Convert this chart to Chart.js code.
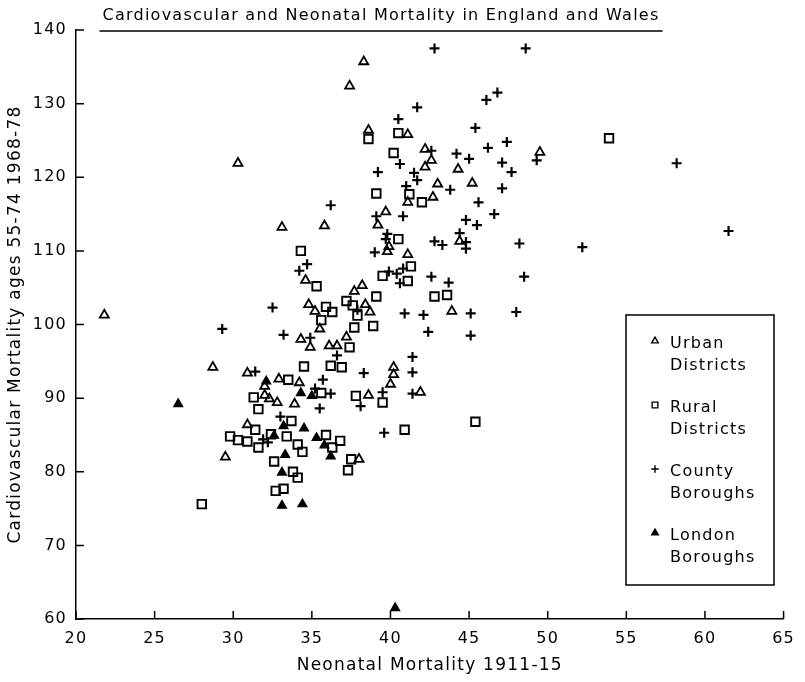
<!DOCTYPE html>
<html>
<head>
<meta charset="utf-8">
<script src="https://cdn.jsdelivr.net/npm/chart.js@4.4.1/dist/chart.umd.min.js"></script>
<style>
  html, body { margin: 0; padding: 0; background: #fff; }
</style>
</head>
<body>
<canvas id="scatter" width="805" height="682"></canvas>
<script>
const chartTitle = 'Cardiovascular and Neonatal Mortality in England and Wales';
const xTitle = 'Neonatal Mortality 1911-15';
const yTitle = 'Cardiovascular Mortality ages 55-74 1968-78';
const seriesNames = ['Urban Districts', 'Rural Districts', 'County Boroughs', 'London Boroughs'];
const xTicks = [20, 25, 30, 35, 40, 45, 50, 55, 60, 65];
const yTicks = [60, 70, 80, 90, 100, 110, 120, 130, 140];

// [neonatal 1911-15, cardiovascular 1968-78]
const urban = [
  [21.8, 101.3], [28.7, 94.2], [29.5, 82.0], [30.3, 121.9], [30.9, 86.4], [30.9, 93.4],
  [32.0, 91.6], [32.0, 90.4], [32.3, 89.9], [32.8, 89.4], [32.9, 92.6], [33.1, 113.2],
  [33.9, 89.2], [34.2, 92.1], [34.3, 98.0], [34.6, 106.0], [34.8, 102.7], [34.9, 96.9],
  [35.2, 101.8], [35.5, 99.4], [35.8, 113.4], [36.1, 97.1], [36.6, 97.1], [37.2, 98.3],
  [37.4, 132.4], [37.7, 104.5], [38.0, 81.7], [38.2, 105.3], [38.3, 135.7], [38.4, 102.7],
  [38.6, 126.4], [38.6, 90.4], [38.7, 101.7], [39.2, 113.5], [39.7, 115.3], [39.8, 109.9],
  [39.9, 110.6], [40.0, 91.9], [40.2, 94.2], [40.2, 93.2], [41.1, 109.5], [41.1, 116.6],
  [41.1, 125.8], [41.9, 90.8], [42.2, 121.4], [42.2, 123.8], [42.6, 122.3], [42.7, 117.3],
  [43.0, 119.1], [43.9, 101.8], [44.3, 121.1], [44.4, 111.3], [45.2, 119.2], [49.5, 123.4]
];
const rural = [
  [28.0, 75.6], [29.8, 84.8], [30.3, 84.3], [30.9, 84.1], [31.3, 90.1], [31.4, 85.7],
  [31.6, 88.5], [31.6, 83.3], [32.4, 85.1], [32.6, 81.4], [32.7, 77.4], [33.2, 77.7],
  [33.4, 84.8], [33.5, 92.5], [33.7, 86.9], [33.8, 80.0], [34.1, 83.7], [34.1, 79.2],
  [34.3, 110.0], [34.4, 82.7], [34.5, 94.3], [35.3, 105.2], [35.6, 90.7], [35.6, 100.6],
  [35.9, 102.4], [35.9, 85.0], [36.3, 101.7], [36.2, 94.4], [36.3, 83.3], [36.8, 84.2],
  [36.9, 94.2], [37.2, 103.2], [37.3, 80.2], [37.4, 96.9], [37.5, 81.7], [37.6, 102.6],
  [37.7, 99.6], [37.8, 90.3], [37.9, 101.2], [38.6, 125.2], [38.9, 99.8], [39.1, 103.8],
  [39.1, 117.8], [39.5, 106.6], [39.5, 89.4], [40.2, 123.3], [40.5, 126.0], [40.5, 111.6],
  [40.9, 85.7], [41.1, 105.9], [41.2, 117.7], [41.3, 107.9], [42.0, 116.6], [42.8, 103.8],
  [43.6, 104.0], [45.4, 86.8], [53.9, 125.3]
];
const county = [
  [29.3, 99.4], [31.4, 93.6], [31.9, 84.4], [32.2, 84.0], [32.5, 102.3], [33.0, 87.5],
  [33.2, 98.6], [34.2, 107.3], [34.7, 108.2], [34.9, 98.2], [35.2, 91.3], [35.5, 88.6],
  [35.7, 92.5], [36.2, 90.6], [36.2, 116.2], [36.6, 95.8], [37.9, 102.0], [38.1, 88.9],
  [38.3, 93.4], [39.0, 109.8], [39.1, 114.7], [39.2, 120.7], [39.5, 90.8], [39.6, 85.3],
  [39.7, 111.6], [39.8, 112.3], [39.9, 107.2], [40.4, 106.9], [40.5, 127.9], [40.6, 105.6],
  [40.6, 121.8], [40.8, 107.6], [40.8, 114.7], [40.9, 101.5], [41.0, 118.8], [41.4, 95.6],
  [41.4, 93.5], [41.4, 90.6], [41.5, 120.6], [41.7, 119.6], [41.7, 129.5], [42.1, 101.3],
  [42.4, 99.0], [42.6, 123.6], [42.6, 106.5], [42.8, 111.3], [42.8, 137.5], [43.3, 110.8],
  [43.7, 105.7], [43.8, 118.3], [44.2, 123.2], [44.4, 112.4], [44.8, 114.2], [44.8, 111.2],
  [44.8, 110.3], [45.0, 122.5], [45.1, 98.5], [45.1, 101.5], [45.4, 126.7], [45.5, 113.5],
  [45.6, 116.6], [46.1, 130.5], [46.2, 124.0], [46.6, 115.0], [46.8, 131.5], [47.1, 122.0],
  [47.1, 118.5], [47.4, 124.8], [47.7, 120.7], [48.0, 101.7], [48.2, 111.0], [48.5, 106.5],
  [48.6, 137.5], [49.3, 122.3], [52.2, 110.5], [58.2, 121.9], [61.5, 112.7]
];
const london = [
  [26.5, 89.2], [32.1, 92.3], [32.6, 84.9], [33.1, 75.4], [33.1, 79.9], [33.2, 86.2],
  [33.3, 82.3], [34.3, 90.7], [34.4, 75.6], [34.5, 85.9], [35.0, 90.3], [35.3, 84.6],
  [35.8, 83.6], [36.2, 82.1], [40.3, 61.5]
];

const FONT = '"DejaVu Sans", "Liberation Sans", sans-serif';
const INK = '#000';

const toXY = arr => arr.map(([x, y]) => ({ x, y }));

// plotter style lettering is wide, so space the letters out a bit
const spacing = {
  id: 'spacing',
  beforeUpdate(chart) { chart.ctx.letterSpacing = '1.25px'; },
  beforeDraw(chart) { chart.ctx.letterSpacing = '1.25px'; }
};

// tick marks point into the plot
const innerTicks = {
  id: 'innerTicks',
  afterDraw(chart) {
    const { ctx, chartArea: a, scales: { x, y } } = chart;
    ctx.save();
    ctx.strokeStyle = INK;
    ctx.lineWidth = 1.5;
    ctx.beginPath();
    x.ticks.forEach(t => {
      const px = x.getPixelForValue(t.value);
      ctx.moveTo(px, a.bottom);
      ctx.lineTo(px, a.bottom - 8);
    });
    y.ticks.forEach(t => {
      const py = y.getPixelForValue(t.value);
      ctx.moveTo(a.left, py);
      ctx.lineTo(a.left + 8, py);
    });
    ctx.stroke();
    ctx.restore();
  }
};

const underlinedTitle = {
  id: 'underlinedTitle',
  afterDraw(chart) {
    const ctx = chart.ctx;
    const cx = 381;
    ctx.save();
    ctx.font = '16px ' + FONT;
    ctx.fillStyle = INK;
    ctx.textAlign = 'center';
    ctx.textBaseline = 'middle';
    ctx.fillText(chartTitle, cx, 16);
    const w = ctx.measureText(chartTitle).width;
    ctx.strokeStyle = INK;
    ctx.lineWidth = 1.5;
    ctx.beginPath();
    ctx.moveTo(cx - w / 2 - 3, 31);
    ctx.lineTo(cx + w / 2 + 3, 31);
    ctx.stroke();
    ctx.restore();
  }
};

// boxed legend inside the plot, two lines per entry
const boxLegend = {
  id: 'boxLegend',
  afterDraw(chart) {
    const ctx = chart.ctx;
    const left = 626, top = 315, width = 148, height = 270;
    ctx.save();
    ctx.strokeStyle = INK;
    ctx.lineWidth = 1.5;
    ctx.strokeRect(left, top, width, height);
    ctx.font = '16px ' + FONT;
    ctx.textBaseline = 'middle';
    ctx.textAlign = 'left';
    chart.data.datasets.forEach((ds, i) => {
      const y0 = top + 29 + i * 64;
      ctx.fillStyle = ds.backgroundColor;
      ctx.strokeStyle = ds.borderColor;
      ctx.lineWidth = 1.4;
      Chart.helpers.drawPoint(ctx, {
        pointStyle: ds.pointStyle,
        radius: ds.pointStyle === 'rect' ? 4 : 3.8,
        borderWidth: 1.4,
        rotation: 0
      }, 655, y0 - 3);
      ctx.fillStyle = INK;
      const words = ds.label.split(' ');
      ctx.fillText(words[0], 670, y0);
      ctx.fillText(words[1], 670, y0 + 22);
    });
    ctx.restore();
  }
};

const marker = (label, data, style, filled, radius, width) => ({
  label,
  data: toXY(data),
  pointStyle: style,
  pointRadius: radius,
  pointBorderWidth: width,
  borderColor: INK,
  backgroundColor: filled ? INK : 'rgba(0,0,0,0)',
  showLine: false
});

new Chart(document.getElementById('scatter'), {
  type: 'scatter',
  data: {
    datasets: [
      marker(seriesNames[0], urban, 'triangle', false, 5.2, 1.8),
      marker(seriesNames[1], rural, 'rect', false, 6, 1.9),
      marker(seriesNames[2], county, 'cross', false, 5, 2.2),
      marker(seriesNames[3], london, 'triangle', true, 5.2, 1.2)
    ]
  },
  options: {
    responsive: false,
    devicePixelRatio: 1,
    animation: false,
    events: [],
    layout: { padding: { top: 30, right: 15, bottom: 0, left: 0 } },
    scales: {
      x: {
        type: 'linear',
        min: xTicks[0],
        max: xTicks[xTicks.length - 1],
        afterBuildTicks: s => { s.ticks = xTicks.map(v => ({ value: v })); },
        afterFit: s => { s.height = 63; },
        grid: { display: false, drawTicks: false },
        border: { display: true, color: INK, width: 1.5 },
        ticks: { color: INK, font: { family: FONT, size: 16 }, padding: 10, maxRotation: 0 },
        title: {
          display: true, text: xTitle, color: INK,
          font: { family: FONT, size: 17 }, padding: { top: 0, bottom: 6 }
        }
      },
      y: {
        type: 'linear',
        min: yTicks[0],
        max: yTicks[yTicks.length - 1],
        afterBuildTicks: s => { s.ticks = yTicks.map(v => ({ value: v })); },
        afterFit: s => { s.width = 76; },
        grid: { display: false, drawTicks: false },
        border: { display: true, color: INK, width: 1.5 },
        ticks: { color: INK, font: { family: FONT, size: 16 }, padding: 9 },
        title: {
          display: true, text: yTitle, color: INK,
          font: { family: FONT, size: 17 }, padding: { top: 5, bottom: 0 }
        }
      }
    },
    plugins: {
      legend: { display: false },
      tooltip: { enabled: false },
      title: { display: false }
    }
  },
  plugins: [spacing, innerTicks, underlinedTitle, boxLegend]
});
</script>
</body>
</html>
